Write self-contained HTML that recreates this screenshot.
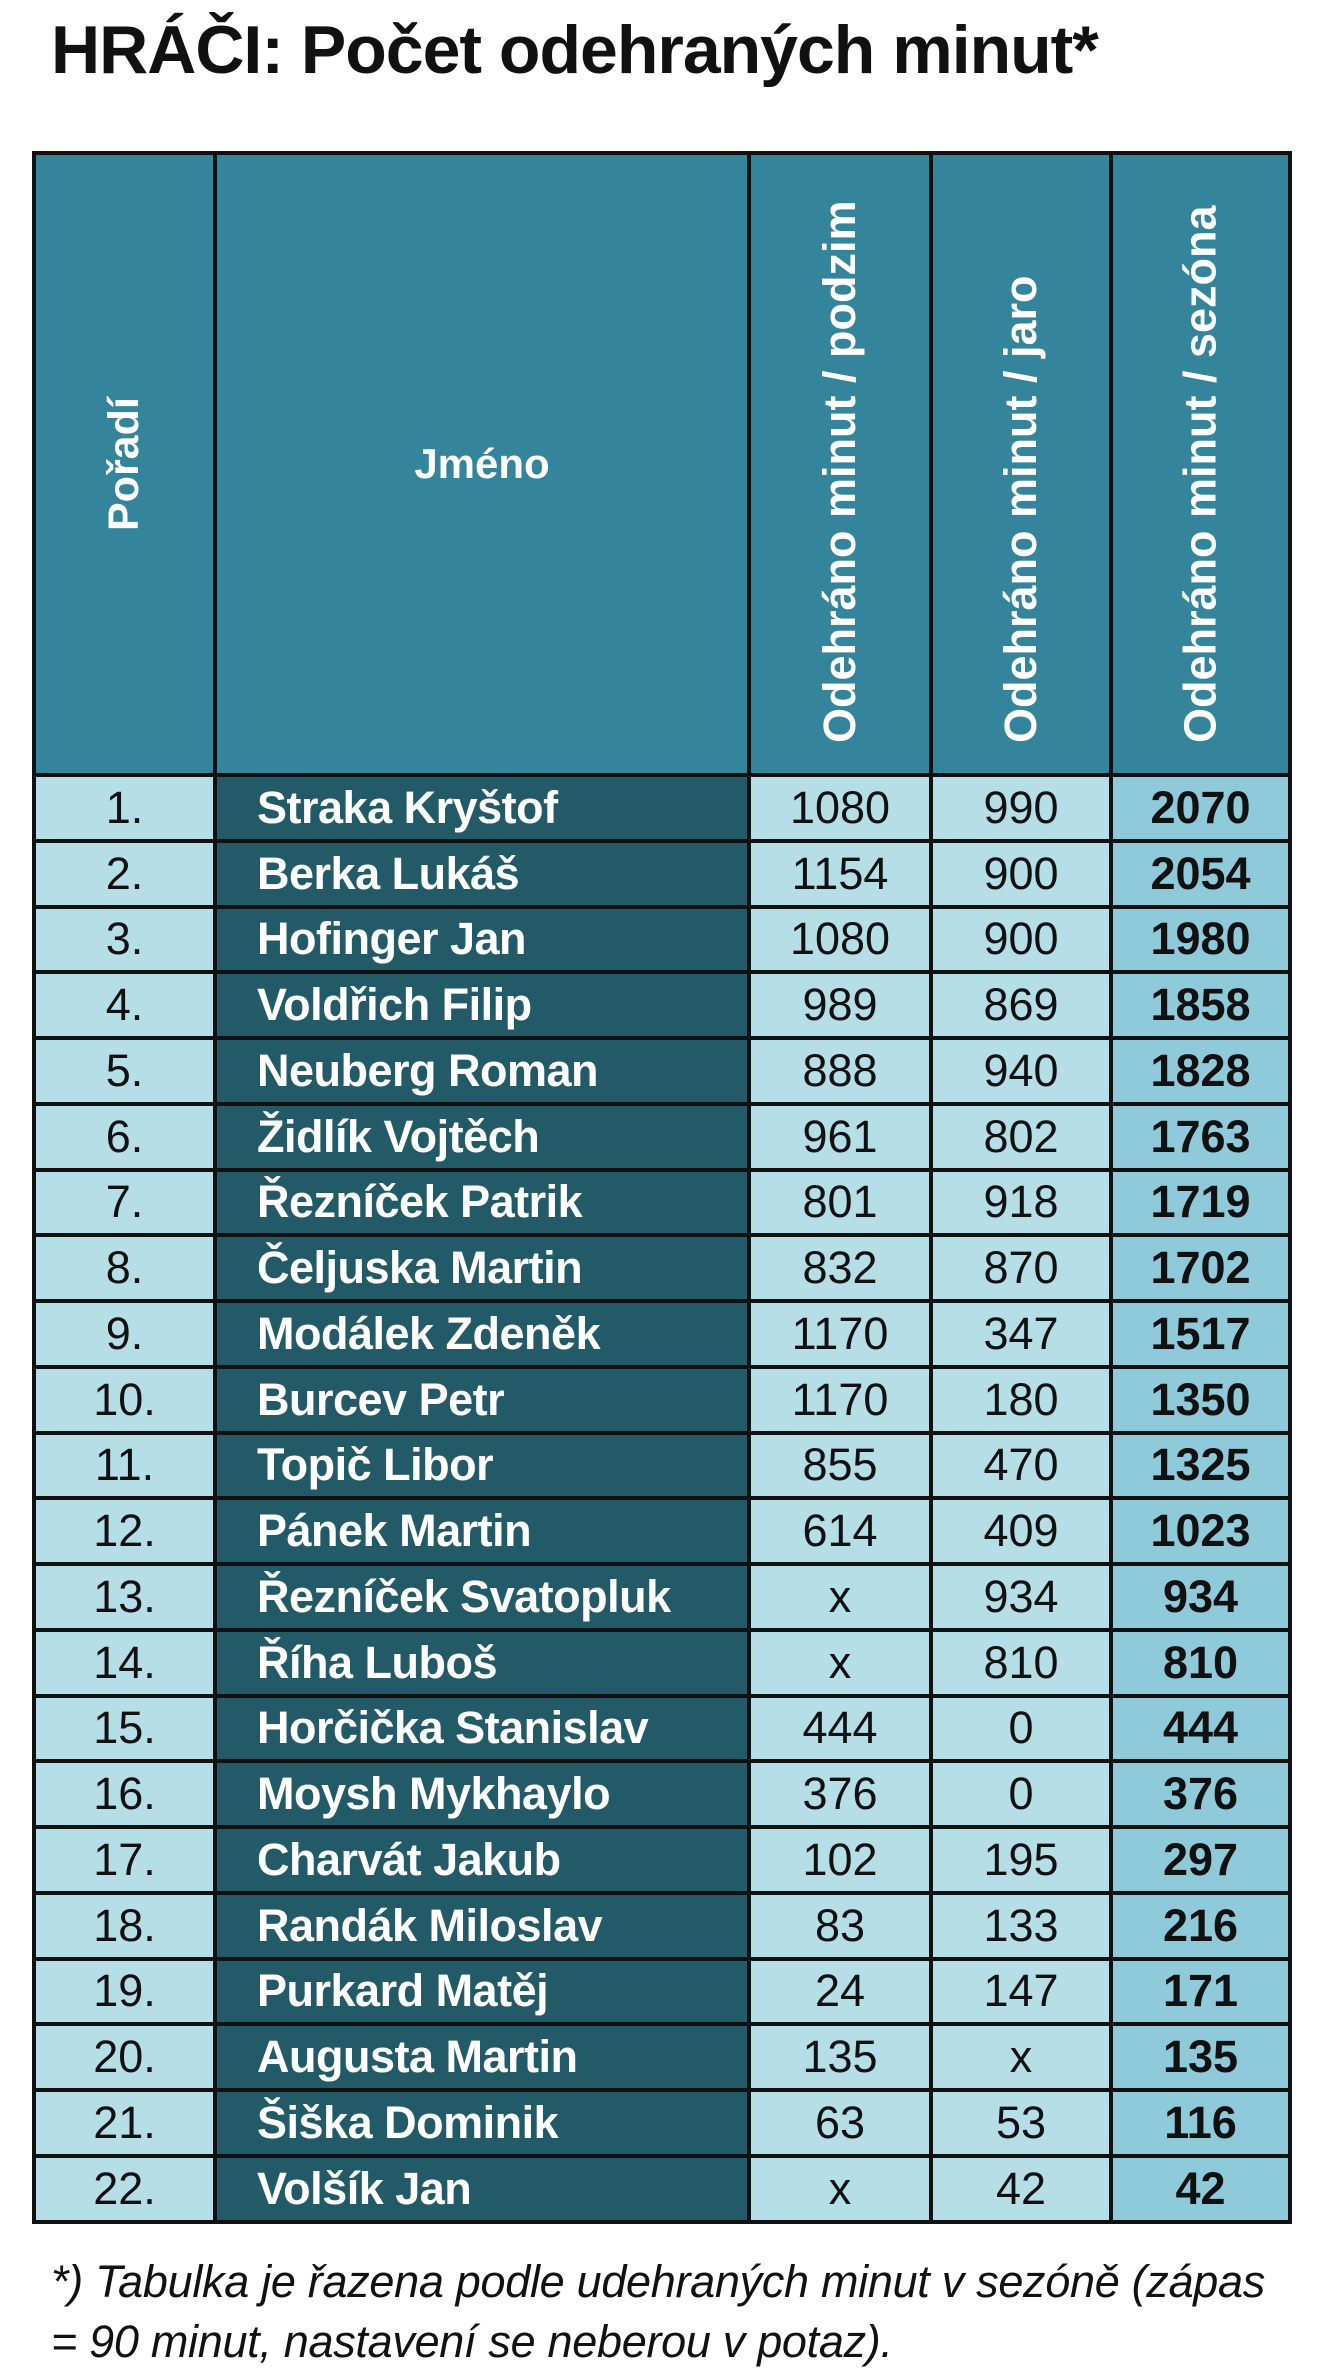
<!DOCTYPE html>
<html><head><meta charset="utf-8"><style>
body{margin:0;width:1321px;height:2374px;background:#fff;position:relative;overflow:hidden;font-family:"Liberation Sans",sans-serif;}
h1{position:absolute;left:51px;top:12px;margin:0;font-size:68px;font-weight:bold;letter-spacing:-1px;color:#111;white-space:nowrap;line-height:76px}
.g{position:absolute;left:32px;top:151px;width:1260px;display:grid;grid-template-columns:177px 530px 178px 176px 175px;grid-template-rows:618px repeat(22,61.75px);gap:4px;padding:4px;box-sizing:border-box;background:#111;}
.g div{display:flex;align-items:center;justify-content:center;font-size:45px;color:#111;overflow:hidden;white-space:nowrap}
.h{background:#34849b;color:#fff!important;font-weight:bold}
.v{writing-mode:vertical-rl;transform:rotate(180deg);font-size:45px!important;justify-content:flex-start!important;padding-top:30px}
.c{background:#b6dee7}
.n{background:#235a68;color:#fff!important;font-weight:bold;justify-content:flex-start!important;padding-left:40px;font-size:45px!important;letter-spacing:-0.5px}
.s{background:#8ecad9;font-weight:bold}
.f{position:absolute;left:51px;top:2252px;font-size:45px;font-style:italic;line-height:60px;color:#111;width:1280px;letter-spacing:-0.3px;white-space:nowrap}
</style></head><body>
<h1>HRÁČI: Počet odehraných minut*</h1>
<div class="g">
<div class="h v" style="justify-content:center!important;padding:0;font-size:43px!important">Pořadí</div>
<div class="h" style="font-size:42px">Jméno</div>
<div class="h v">Odehráno minut / podzim</div>
<div class="h v">Odehráno minut / jaro</div>
<div class="h v">Odehráno minut / sezóna</div>
<div class="c">1.</div><div class="n">Straka Kryštof</div><div class="c">1080</div><div class="c">990</div><div class="s">2070</div>
<div class="c">2.</div><div class="n">Berka Lukáš</div><div class="c">1154</div><div class="c">900</div><div class="s">2054</div>
<div class="c">3.</div><div class="n">Hofinger Jan</div><div class="c">1080</div><div class="c">900</div><div class="s">1980</div>
<div class="c">4.</div><div class="n">Voldřich Filip</div><div class="c">989</div><div class="c">869</div><div class="s">1858</div>
<div class="c">5.</div><div class="n">Neuberg Roman</div><div class="c">888</div><div class="c">940</div><div class="s">1828</div>
<div class="c">6.</div><div class="n">Židlík Vojtěch</div><div class="c">961</div><div class="c">802</div><div class="s">1763</div>
<div class="c">7.</div><div class="n">Řezníček Patrik</div><div class="c">801</div><div class="c">918</div><div class="s">1719</div>
<div class="c">8.</div><div class="n">Čeljuska Martin</div><div class="c">832</div><div class="c">870</div><div class="s">1702</div>
<div class="c">9.</div><div class="n">Modálek Zdeněk</div><div class="c">1170</div><div class="c">347</div><div class="s">1517</div>
<div class="c">10.</div><div class="n">Burcev Petr</div><div class="c">1170</div><div class="c">180</div><div class="s">1350</div>
<div class="c">11.</div><div class="n">Topič Libor</div><div class="c">855</div><div class="c">470</div><div class="s">1325</div>
<div class="c">12.</div><div class="n">Pánek Martin</div><div class="c">614</div><div class="c">409</div><div class="s">1023</div>
<div class="c">13.</div><div class="n">Řezníček Svatopluk</div><div class="c">x</div><div class="c">934</div><div class="s">934</div>
<div class="c">14.</div><div class="n">Říha Luboš</div><div class="c">x</div><div class="c">810</div><div class="s">810</div>
<div class="c">15.</div><div class="n">Horčička Stanislav</div><div class="c">444</div><div class="c">0</div><div class="s">444</div>
<div class="c">16.</div><div class="n">Moysh Mykhaylo</div><div class="c">376</div><div class="c">0</div><div class="s">376</div>
<div class="c">17.</div><div class="n">Charvát Jakub</div><div class="c">102</div><div class="c">195</div><div class="s">297</div>
<div class="c">18.</div><div class="n">Randák Miloslav</div><div class="c">83</div><div class="c">133</div><div class="s">216</div>
<div class="c">19.</div><div class="n">Purkard Matěj</div><div class="c">24</div><div class="c">147</div><div class="s">171</div>
<div class="c">20.</div><div class="n">Augusta Martin</div><div class="c">135</div><div class="c">x</div><div class="s">135</div>
<div class="c">21.</div><div class="n">Šiška Dominik</div><div class="c">63</div><div class="c">53</div><div class="s">116</div>
<div class="c">22.</div><div class="n">Volšík Jan</div><div class="c">x</div><div class="c">42</div><div class="s">42</div>
</div>
<div class="f">*) Tabulka je řazena podle udehraných minut v sezóně (zápas<br>= 90 minut, nastavení se neberou v potaz).</div>
</body></html>
